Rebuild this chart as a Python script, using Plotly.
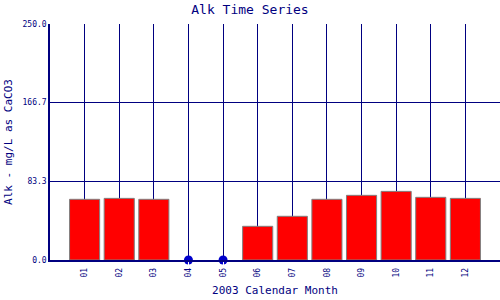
import plotly.graph_objects as go

months = ["01", "02", "03", "04", "05", "06", "07", "08", "09", "10", "11", "12"]
alk = [64.3, 65.3, 64.3, None, None, 35.7, 46.3, 64.3, 68.5, 72.7, 66.4, 65.3]
missing_months = ["04", "05"]
missing_vals = [0, 0]
y_ticks = [0.0, 83.3, 166.7, 250.0]
y_tick_text = ["0.0", "83.3", "166.7", "250.0"]

navy = "#000080"
font = "DejaVu Sans Mono"

xpos = {m: i + 1 for i, m in enumerate(months)}

fig = go.Figure()
fig.add_trace(go.Bar(
    x=[xpos[m] for m in months], y=alk, width=0.87,
    marker=dict(color="#ff0000", line=dict(color="#808080", width=1)),
))
fig.add_trace(go.Scatter(
    x=[xpos[m] for m in missing_months], y=missing_vals, mode="markers",
    marker=dict(color="#0000cc", size=9), cliponaxis=False,
))

fig.update_layout(
    width=500, height=300,
    margin=dict(l=50, r=0, t=24, b=40),
    paper_bgcolor="white", plot_bgcolor="white",
    showlegend=False,
    title=dict(text="Alk Time Series", x=0.5, xanchor="center", y=0.97, yanchor="middle",
               font=dict(family=font, size=13, color=navy)),
    font=dict(family=font, color=navy),
)
fig.update_xaxes(
    range=[0, 13], tickmode="array",
    tickvals=[xpos[m] for m in months], ticktext=months,
    tickangle=-90, tickfont=dict(size=8, color=navy),
    showgrid=True, gridcolor=navy, gridwidth=1,
    showline=True, linecolor=navy, linewidth=1.5, ticks="outside", ticklen=3, tickcolor="white",
    zeroline=False,
    title=dict(text="2003 Calendar Month", font=dict(size=11, color=navy), standoff=10),
)
fig.update_yaxes(
    range=[0, 250], tickmode="array", tickvals=y_ticks, ticktext=y_tick_text,
    tickfont=dict(size=8, color=navy),
    showgrid=True, gridcolor=navy, gridwidth=1,
    showline=True, linecolor=navy, linewidth=1.5, mirror=False, ticks="",
    zeroline=False,
    title=dict(text="Alk - mg/L as CaCO3", font=dict(size=11, color=navy), standoff=8),
)
fig.write_html("out.html")
